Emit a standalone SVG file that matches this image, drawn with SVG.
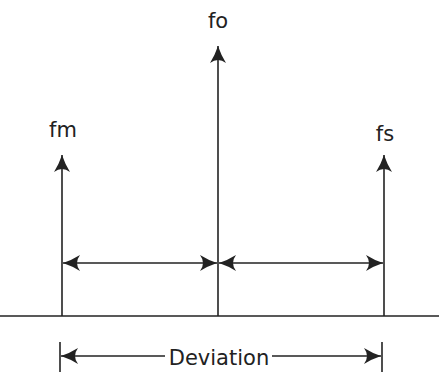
<svg xmlns="http://www.w3.org/2000/svg" width="439" height="372" viewBox="0 0 439 372">
<style>
.ln{stroke:#222;stroke-width:1.6;fill:none}
.t{font-family:"DejaVu Sans",sans-serif;font-size:21px;fill:#222;text-anchor:middle}
</style>
<defs>
<marker id="ah" markerUnits="userSpaceOnUse" markerWidth="22" markerHeight="20" viewBox="-19 -10 20 20" refX="0" refY="0" orient="auto-start-reverse">
<path d="M0,0 Q-9,-3 -17,-8 Q-11,0 -17,8 Q-9,3 0,0Z" fill="#222"/>
</marker>
</defs>
<rect width="439" height="372" fill="#fff"/>
<g id="baseline"><line class="ln" x1="0" y1="316" x2="439" y2="316"/></g>
<g id="fo"><text class="t" x="218" y="28">fo</text></g>
<g id="fm"><text class="t" x="63" y="137">fm</text></g>
<g id="fs"><text class="t" x="385" y="141">fs</text></g>
<g id="deviation"><text class="t" x="219" y="365">Deviation</text></g>
<g id="connectors">
<line class="ln" x1="218" y1="316" x2="218" y2="46" marker-end="url(#ah)"/>
<line class="ln" x1="62" y1="316" x2="62" y2="155" marker-end="url(#ah)"/>
<line class="ln" x1="384" y1="316" x2="384" y2="155" marker-end="url(#ah)"/>
<line class="ln" x1="63" y1="263" x2="217" y2="263" marker-start="url(#ah)" marker-end="url(#ah)"/>
<line class="ln" x1="219" y1="263" x2="383" y2="263" marker-start="url(#ah)" marker-end="url(#ah)"/>
<line class="ln" x1="60" y1="342" x2="60" y2="372"/>
<line class="ln" x1="382" y1="342" x2="382" y2="372"/>
<line class="ln" x1="61" y1="356" x2="165" y2="356" marker-start="url(#ah)"/>
<line class="ln" x1="272" y1="356" x2="381" y2="356" marker-end="url(#ah)"/>
</g>
</svg>
